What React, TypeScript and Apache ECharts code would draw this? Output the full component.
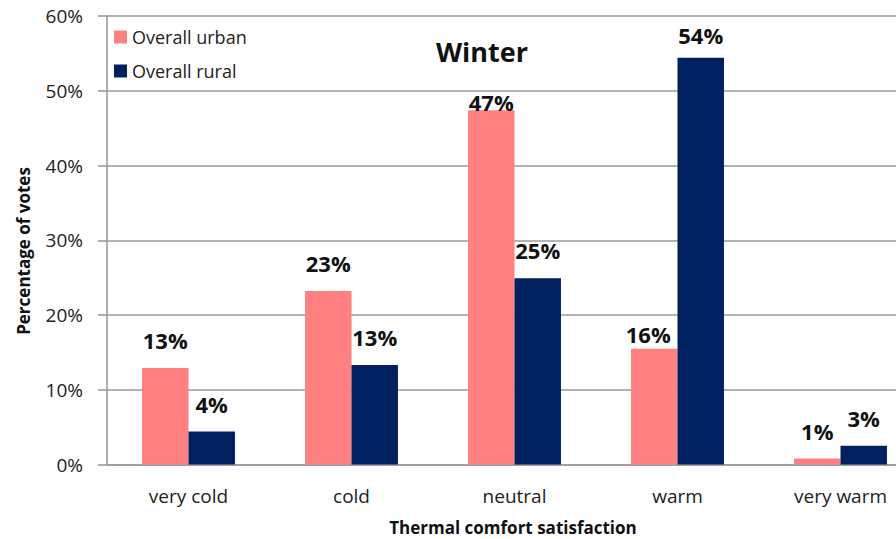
import React, { useEffect, useRef } from "react";
import * as echarts from "echarts";

// Thermal comfort satisfaction votes, winter survey
const categories = ["very cold", "cold", "neutral", "warm", "very warm"];
const urbanValues = [12.9, 23.2, 47.4, 15.5, 0.8];
const ruralValues = [4.4, 13.3, 24.9, 54.4, 2.5];
const seriesNames = ["Overall urban", "Overall rural"];
const yTicks = { min: 0, max: 60, interval: 10 };

// label offsets above each bar (pixels)
const urbanLabelGap = [17, 17, -3, 4, 17];
const ruralLabelGap = [17, 17, 17, 12, 17];

const FONT = "'Open Sans', 'Noto Sans', sans-serif";
const TEXT = "#222";
const GRID = "#9a9a9a";

export default function App() {
  const ref = useRef<HTMLDivElement>(null);

  useEffect(() => {
    if (!ref.current) return;
    const chart = echarts.init(ref.current, undefined, { renderer: "svg" });

    const label = (gaps: number[], i: number, dx: number) => ({
      show: true,
      position: "top",
      distance: gaps[i],
      offset: [dx, 0],
      formatter: (p: any) => `${Math.round(p.value)}%`,
      fontFamily: FONT,
      fontWeight: "bold",
      fontSize: 22,
      color: "#111",
    });

    chart.setOption({
      animation: false,
      backgroundColor: "#fff",
      textStyle: { fontFamily: FONT },
      grid: {
        left: 107,
        top: 16,
        width: 815,
        height: 448.5,
        outerBoundsMode: "none",
        containLabel: false,
      },
      legend: {
        orient: "vertical",
        left: 109,
        top: 22,
        icon: "rect",
        itemWidth: 13,
        itemHeight: 13,
        itemGap: 14,
        selectedMode: false,
        textStyle: { fontFamily: FONT, fontSize: 18, color: TEXT, lineHeight: 20 },
        data: seriesNames,
      },
      graphic: [
        {
          type: "text",
          x: 482,
          y: 51,
          style: {
            text: "Winter",
            fontFamily: FONT,
            fontWeight: "bold",
            fontSize: 27,
            fill: "#111",
            textAlign: "center",
            textVerticalAlign: "middle",
          },
        },
        {
          type: "text",
          x: 23,
          y: 251,
          rotation: Math.PI / 2,
          style: {
            text: "Percentage of votes",
            fontFamily: FONT,
            fontWeight: "bold",
            fontSize: 17,
            fill: "#111",
            textAlign: "center",
            textVerticalAlign: "middle",
          },
        },
        {
          type: "text",
          x: 513,
          y: 527,
          style: {
            text: "Thermal comfort satisfaction",
            fontFamily: FONT,
            fontWeight: "bold",
            fontSize: 17,
            fill: "#111",
            textAlign: "center",
            textVerticalAlign: "middle",
          },
        },
      ],
      xAxis: {
        type: "category",
        data: categories,
        axisLine: { show: true, lineStyle: { color: GRID, width: 1.6 } },
        axisTick: { show: false },
        axisLabel: { fontFamily: FONT, fontSize: 19, color: TEXT, margin: 22 },
      },
      yAxis: {
        type: "value",
        min: yTicks.min,
        max: yTicks.max,
        interval: yTicks.interval,
        axisLine: { show: true, lineStyle: { color: GRID, width: 1.6 } },
        axisTick: { show: true, inside: false, length: 9, lineStyle: { color: GRID, width: 1.6 } },
        splitLine: { show: true, lineStyle: { color: GRID, width: 1.6 } },
        axisLabel: {
          formatter: "{value}%",
          fontFamily: FONT,
          fontSize: 19,
          color: TEXT,
          margin: 24,
        },
      },
      series: [
        {
          name: seriesNames[0],
          type: "bar",
          barGap: "0%",
          barCategoryGap: "43%",
          itemStyle: { color: "#FF8080" },
          data: urbanValues.map((v, i) => ({
            value: v,
            label: label(urbanLabelGap, i, i === 3 ? -6 : 0),
          })),
        },
        {
          name: seriesNames[1],
          type: "bar",
          barGap: "0%",
          barCategoryGap: "43%",
          itemStyle: { color: "#002060" },
          data: ruralValues.map((v, i) => ({ value: v, label: label(ruralLabelGap, i, 0) })),
        },
      ],
    });

    return () => chart.dispose();
  }, []);

  return (
    <div
      ref={ref}
      style={{ position: "fixed", left: 0, top: 0, width: 896, height: 539, background: "#fff" }}
    />
  );
}
